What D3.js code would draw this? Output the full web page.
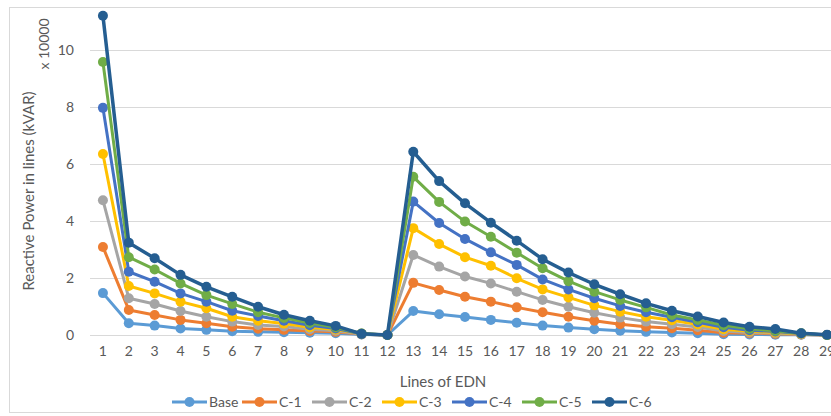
<!DOCTYPE html>
<html>
<head>
<meta charset="utf-8">
<script src="https://cdn.jsdelivr.net/npm/d3@7"></script>
<style>
  html, body { margin: 0; padding: 0; background: #fff; }
  svg { display: block; font-family: Lato, "Open Sans", sans-serif; }
</style>
</head>
<body>
<svg id="chart" width="831" height="416"></svg>
<script>
// Reactive power per line of the EDN (values in units of 10000 kVAR)
const lines = d3.range(1, 30);
const seriesNames = ["Base", "C-1", "C-2", "C-3", "C-4", "C-5", "C-6"];
const seriesColors = ["#5B9BD5", "#ED7D31", "#A5A5A5", "#FFC000", "#4472C4", "#70AD47", "#255E91"];

const base = [1.47, 0.41, 0.33, 0.23, 0.18, 0.13, 0.11, 0.10, 0.08, 0.06, 0.02, 0, 0.84, 0.73, 0.63, 0.53, 0.43, 0.33, 0.26, 0.20, 0.15, 0.11, 0.09, 0.06, 0.03, 0.02, 0.01, 0.01, 0];
const c1   = [3.09, 0.88, 0.70, 0.53, 0.41, 0.29, 0.22, 0.18, 0.14, 0.11, 0.03, 0, 1.83, 1.58, 1.34, 1.17, 0.97, 0.80, 0.64, 0.50, 0.38, 0.29, 0.24, 0.17, 0.08, 0.06, 0.04, 0.02, 0];
const c2   = [4.73, 1.29, 1.09, 0.84, 0.64, 0.47, 0.35, 0.30, 0.20, 0.15, 0.03, 0, 2.81, 2.40, 2.05, 1.81, 1.52, 1.23, 0.99, 0.78, 0.61, 0.47, 0.38, 0.28, 0.14, 0.09, 0.06, 0.03, 0];
const c3   = [6.35, 1.72, 1.46, 1.17, 0.94, 0.64, 0.50, 0.40, 0.27, 0.19, 0.04, 0, 3.75, 3.19, 2.73, 2.43, 1.99, 1.60, 1.32, 1.04, 0.82, 0.64, 0.52, 0.37, 0.20, 0.13, 0.09, 0.04, 0];
const c4   = [7.97, 2.22, 1.87, 1.46, 1.17, 0.85, 0.67, 0.50, 0.34, 0.23, 0.04, 0, 4.68, 3.93, 3.37, 2.90, 2.46, 1.95, 1.60, 1.29, 1.02, 0.80, 0.62, 0.45, 0.27, 0.17, 0.12, 0.05, 0];
const c5   = [9.58, 2.73, 2.30, 1.81, 1.40, 1.09, 0.80, 0.60, 0.42, 0.27, 0.05, 0, 5.55, 4.67, 3.98, 3.45, 2.89, 2.34, 1.89, 1.52, 1.23, 0.97, 0.70, 0.53, 0.34, 0.22, 0.15, 0.06, 0];
const c6   = [11.2, 3.24, 2.69, 2.11, 1.69, 1.34, 0.99, 0.71, 0.50, 0.32, 0.04, 0, 6.43, 5.40, 4.62, 3.94, 3.31, 2.66, 2.19, 1.78, 1.43, 1.11, 0.85, 0.65, 0.44, 0.29, 0.21, 0.06, 0.01];
const yTicks = [0, 2, 4, 6, 8, 10];

const seriesValues = [base, c1, c2, c3, c4, c5, c6];

const svg = d3.select("#chart");
const textColor = "#595959";
const gridColor = "#d9d9d9";

// chart frame
svg.append("rect")
  .attr("x", 9.5).attr("y", 7.5)
  .attr("width", 900).attr("height", 405)
  .attr("fill", "none").attr("stroke", gridColor).attr("stroke-width", 1);

const plotLeft = 90, plotRight = 840;
const x = d3.scaleBand().domain(lines).range([plotLeft, plotRight]);
const cx = d => x(d) + x.bandwidth() / 2;
const y = d3.scaleLinear().domain([0, 10]).range([335, 50]);

// horizontal gridlines
svg.append("g")
  .selectAll("line")
  .data(yTicks)
  .join("line")
  .attr("x1", plotLeft).attr("x2", 831)
  .attr("y1", d => Math.round(y(d)) + 0.5)
  .attr("y2", d => Math.round(y(d)) + 0.5)
  .attr("stroke", gridColor).attr("stroke-width", 1);

// y axis labels
const yAxis = d3.axisLeft(y).tickValues(yTicks).tickSize(0).tickPadding(0);
svg.append("g")
  .attr("transform", "translate(74,0)")
  .call(yAxis)
  .call(g => g.select(".domain").remove())
  .call(g => g.selectAll("text")
    .attr("fill", textColor)
    .style("font-size", "14px")
    .style("font-family", "Lato, 'Open Sans', sans-serif"));

// x axis labels
const xAxis = d3.axisBottom(x).tickSize(0).tickPadding(0);
svg.append("g")
  .attr("transform", "translate(0,346)")
  .call(xAxis)
  .call(g => g.select(".domain").remove())
  .call(g => g.selectAll("text")
    .attr("fill", textColor)
    .style("font-size", "14px")
    .style("font-family", "Lato, 'Open Sans', sans-serif"));

// axis titles
svg.append("text")
  .attr("transform", "translate(34,191) rotate(-90)")
  .attr("text-anchor", "middle")
  .attr("fill", textColor)
  .style("font-size", "15px")
  .text("Reactive Power in lines (kVAR)");

svg.append("text")
  .attr("transform", "translate(49,44) rotate(-90)")
  .attr("text-anchor", "middle")
  .attr("fill", textColor)
  .style("font-size", "14px")
  .text("x 10000");

svg.append("text")
  .attr("x", 443).attr("y", 387)
  .attr("text-anchor", "middle")
  .attr("fill", textColor)
  .style("font-size", "15px")
  .text("Lines of EDN");

// series lines and markers
const lineGen = d3.line().x((d, i) => cx(lines[i])).y(d => y(d));
const seriesG = svg.append("g");
seriesValues.forEach((vals, si) => {
  const g = seriesG.append("g");
  g.append("path")
    .datum(vals)
    .attr("d", lineGen)
    .attr("fill", "none")
    .attr("stroke", seriesColors[si])
    .attr("stroke-width", si === 6 ? 3.5 : 3)
    .attr("stroke-linejoin", "round");
  g.selectAll("circle")
    .data(vals)
    .join("circle")
    .attr("cx", (d, i) => cx(lines[i]))
    .attr("cy", d => y(d))
    .attr("r", 5)
    .attr("fill", seriesColors[si]);
});

// legend
const legend = svg.append("g").attr("transform", "translate(172,402)");
const item = legend.selectAll("g")
  .data(seriesNames)
  .join("g")
  .attr("transform", (d, i) => `translate(${i * 70},0)`);
item.append("line")
  .attr("x1", 0).attr("x2", 35)
  .attr("stroke", (d, i) => seriesColors[i])
  .attr("stroke-width", 3);
item.append("circle")
  .attr("cx", 17.5).attr("r", 5)
  .attr("fill", (d, i) => seriesColors[i]);
item.append("text")
  .attr("x", 37).attr("y", 5)
  .attr("fill", textColor)
  .style("font-size", "14px")
  .text(d => d);
</script>
</body>
</html>
